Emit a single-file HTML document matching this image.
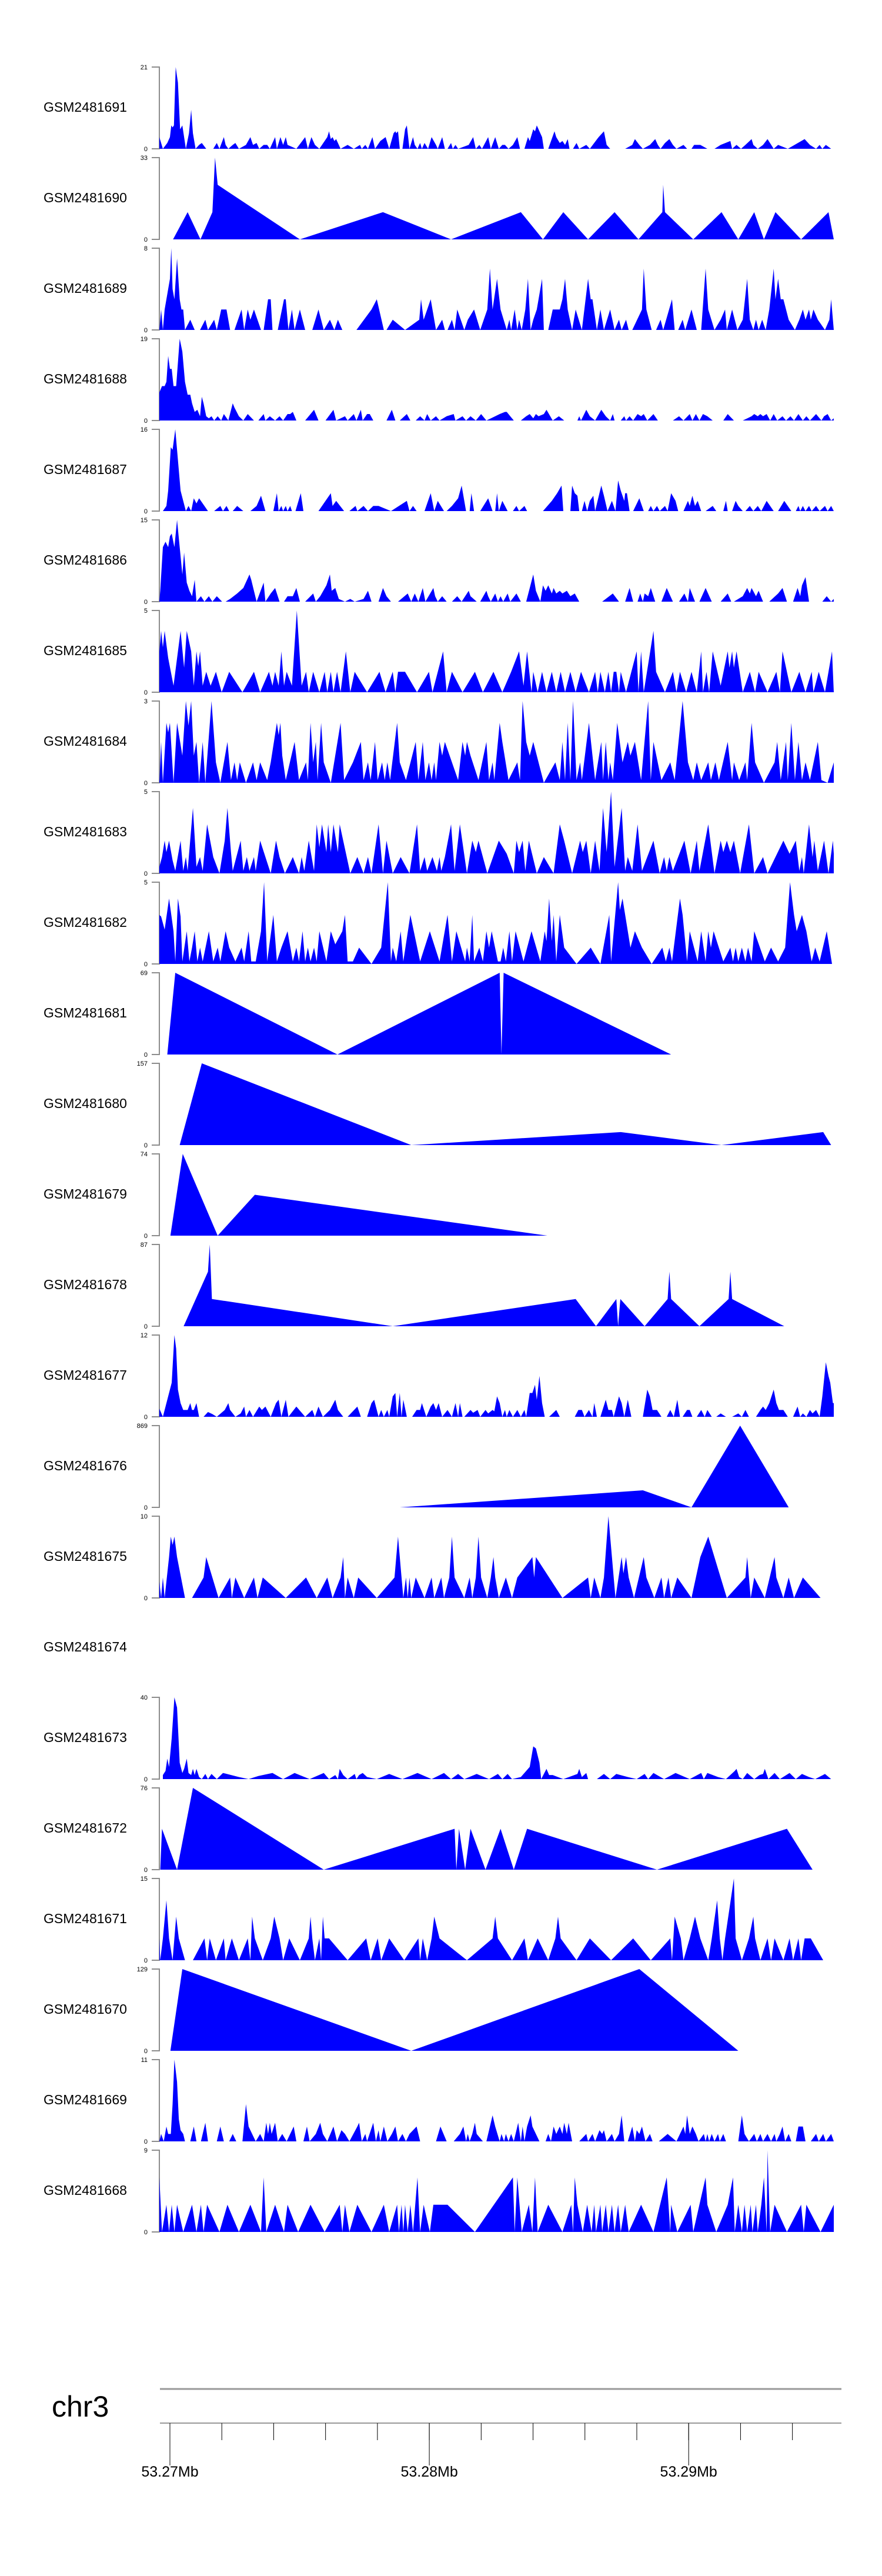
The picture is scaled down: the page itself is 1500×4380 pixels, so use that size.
<!DOCTYPE html>
<html><head><meta charset="utf-8"><title>Coverage tracks chr3</title>
<style>
html,body{margin:0;padding:0;background:#fff;}
svg{display:block;font-family:"Liberation Sans",sans-serif;}
</style></head>
<body>
<svg id="chart" width="1500" height="4380" viewBox="0 0 1500 4380" xmlns="http://www.w3.org/2000/svg"></svg>
<script>
// Genomic binning: position = START_BP + bin * BIN_BP
const START_BP = 53269592;
const BIN_BP = 17.04;
const NBINS = 1526;
const sampleNames = ["GSM2481691","GSM2481690","GSM2481689","GSM2481688","GSM2481687","GSM2481686","GSM2481685","GSM2481684","GSM2481683","GSM2481682","GSM2481681","GSM2481680","GSM2481679","GSM2481678","GSM2481677","GSM2481676","GSM2481675","GSM2481674","GSM2481673","GSM2481672","GSM2481671","GSM2481670","GSM2481669","GSM2481668"];
const yMaxValues = [21,33,8,19,16,15,5,3,5,5,69,157,74,87,12,869,10,null,40,76,15,129,11,9];
const genomeTickLabels = ["53.27Mb","53.28Mb","53.29Mb"];
const genomeTickBp = [53270000,53280000,53290000];
const minorTickBp = [53270000,53272000,53274000,53276000,53278000,53280000,53282000,53284000,53286000,53288000,53290000,53292000,53294000];

// coverage series: [bin, value] pairs
const cov1691=[[0,3],[8,0],[18,1.5],[24,3],[27,6],[30,5.5],[33,6],[37,21],[42,17],[47,5],[52,6],[56,3],[60,0],[67,4],[72,10],[76,4],[82,0],[90,1],[96,1.5],[106,0],[122,0],[130,1.5],[136,0],[146,3],[150,1],[156,0],[166,1],[172,1.5],[180,0],[196,1],[206,3],[212,1],[220,1.5],[226,0],[236,1],[244,1],[250,0],[262,3],[266,0],[274,3],[280,1],[286,3],[290,1],[310,0],[330,3],[336,0],[344,3],[352,1],[362,0],[380,3],[384,4.5],[388,2.5],[392,3],[396,2],[400,2.5],[410,0],[426,1],[440,0],[454,1],[458,0],[466,1],[472,0],[482,3],[488,0],[500,2],[512,3],[520,0],[530,4],[534,4.5],[536,4],[540,4.5],[544,0],[550,0],[556,5],[560,6],[566,0],[574,3],[578,1],[584,0],[590,1.5],[594,0],[600,1.5],[608,0],[616,3],[626,1],[630,0],[640,3],[646,0],[652,0],[660,1.5],[664,0],[670,1],[676,0],[700,1],[710,3],[716,0],[724,1],[730,0],[744,3],[750,0],[760,3],[768,0],[776,1],[782,1],[790,0],[800,1],[810,3],[816,0],[826,0],[834,3],[838,2],[846,5],[850,4.5],[854,6],[858,5],[866,3],[870,0],[880,0],[894,4.5],[898,3],[906,1.5],[912,2],[918,1],[924,2.5],[928,0],[936,0],[944,1.5],[950,0],[966,1],[974,0],[994,3],[1006,4.5],[1012,1],[1020,0],[1042,0],[1054,0],[1070,1],[1076,2.5],[1086,1],[1094,0],[1110,1],[1122,2.5],[1128,1],[1134,0],[1144,1.5],[1154,2.5],[1162,1],[1170,0],[1186,1],[1194,0],[1204,0],[1210,1],[1224,1],[1240,0],[1256,0],[1270,1],[1292,2],[1296,0],[1306,1],[1316,0],[1326,1],[1340,2.5],[1344,1],[1354,0],[1366,1],[1376,2.5],[1390,0],[1400,1],[1422,0],[1460,2.5],[1472,1],[1486,0],[1494,1],[1500,0],[1508,1],[1520,0]];
const cov1690=[[31,0],[64,11],[93,0],[120,11],[126,33],[132,22],[318,0],[506,11],[660,0],[818,11],[868,0],[914,11],[970,0],[1030,11],[1084,0],[1138,11],[1140,22],[1144,11],[1208,0],[1272,11],[1310,0],[1346,11],[1368,0],[1394,11],[1452,0],[1514,11],[1526,0]];
const cov1689=[[0,0],[4,2],[8,0],[12,2],[20,4],[24,5],[27,8],[30,4],[34,3],[40,7],[46,3],[50,2],[54,2],[58,0],[70,1],[80,0],[92,0],[104,1],[110,0],[124,1],[130,0],[140,2],[152,2],[160,0],[170,0],[186,2],[192,0],[200,2],[206,1],[214,2],[230,0],[236,0],[246,3],[252,3],[256,0],[268,0],[282,3],[286,3],[292,0],[300,2],[306,0],[318,2],[330,0],[346,0],[360,2],[372,0],[386,1],[396,0],[404,1],[414,0],[430,0],[446,0],[480,2],[492,3],[508,0],[514,0],[528,1],[556,0],[588,1],[592,3],[598,1],[614,3],[626,0],[640,1],[646,0],[652,0],[662,1],[668,0],[674,2],[690,0],[698,1],[712,2],[726,0],[742,2],[748,6],[754,2],[764,5],[772,2],[786,0],[792,1],[796,0],[804,2],[810,0],[814,1],[820,0],[828,2],[834,5],[840,0],[846,1],[854,2],[866,5],[870,0],[880,0],[890,2],[900,2],[906,2],[912,3],[918,5],[924,2],[934,0],[942,2],[956,0],[970,5],[976,3],[980,3],[990,0],[998,2],[1006,0],[1020,2],[1030,0],[1040,1],[1046,0],[1056,1],[1062,0],[1070,0],[1092,2],[1096,6],[1102,2],[1114,0],[1124,0],[1134,1],[1140,0],[1160,3],[1166,0],[1174,0],[1184,1],[1190,0],[1204,2],[1216,0],[1226,0],[1236,6],[1242,2],[1256,0],[1270,1],[1280,2],[1284,0],[1296,2],[1308,0],[1320,1],[1330,5],[1336,1],[1344,0],[1350,1],[1356,0],[1364,1],[1372,0],[1380,2],[1390,6],[1394,3],[1400,5],[1406,3],[1412,3],[1424,1],[1438,0],[1448,1],[1456,2],[1462,1],[1470,2],[1474,1],[1480,2],[1490,1],[1506,0],[1516,1],[1520,3],[1526,0]];
const cov1688=[[0,6.5],[6,8],[12,8],[16,9],[20,15],[24,12],[28,12],[32,8],[38,8],[46,19],[52,16],[58,9],[64,6],[70,6],[74,4],[80,2],[86,2.5],[92,1],[96,5.5],[100,4],[106,1],[112,0.5],[118,1],[124,0],[132,1],[140,0],[146,1.5],[156,0],[166,4],[170,3],[180,1],[190,0],[200,1.5],[214,0],[224,0],[236,1.5],[240,0],[250,1],[262,0],[272,1],[280,0],[290,1.5],[296,1.5],[302,2],[310,0],[330,0],[350,2.5],[360,0],[376,0],[394,2.5],[400,0],[420,1],[426,0],[440,1.5],[446,0],[456,2.5],[460,0],[470,1.5],[476,1.5],[484,0],[500,0],[514,0],[526,2.5],[534,0],[544,0],[560,1.5],[568,0],[580,0],[590,1],[600,0],[606,1.5],[614,0],[626,1],[634,0],[650,1],[666,1.5],[670,0],[686,1],[694,0],[704,1],[716,0],[728,1.5],[740,0],[760,1],[770,1.5],[782,2],[786,2],[794,1],[802,0],[818,0],[830,1],[838,1.5],[846,0.5],[852,1.5],[858,1],[870,1.5],[876,2.5],[890,0],[904,1],[916,0],[930,0],[946,0],[950,1],[954,0],[966,2.5],[974,1],[986,0],[1000,2.5],[1010,1],[1020,0],[1026,1.5],[1030,0],[1044,0],[1052,1],[1056,0],[1064,1],[1072,0],[1082,1.5],[1090,1],[1096,1.5],[1104,0],[1118,1.5],[1128,0],[1140,0],[1150,0],[1162,0],[1176,1],[1186,0],[1200,1.5],[1206,0],[1214,1.5],[1222,0],[1230,1.5],[1240,1],[1252,0],[1266,0],[1276,0],[1286,1.5],[1300,0],[1310,0],[1320,0],[1340,1],[1346,1.5],[1354,1],[1360,1.5],[1366,1],[1374,1.5],[1382,0],[1390,1.5],[1398,0],[1410,1],[1418,0],[1428,1],[1436,0],[1446,1.5],[1456,0],[1464,1],[1472,0],[1486,1.5],[1498,0],[1504,1],[1512,1.5],[1520,0],[1526,0.5]];
const cov1687=[[8,0],[16,1],[20,4],[26,12.5],[30,12],[36,16],[42,10],[48,4],[54,2],[60,0],[66,1],[72,0],[78,2.5],[84,1.5],[90,2.5],[98,1.5],[110,0],[124,0],[138,1],[144,0],[152,1],[158,0],[166,0],[176,1],[190,0],[206,0],[220,1],[230,3],[240,0],[258,0],[266,3.5],[270,0],[276,1],[280,0],[286,1],[290,0],[296,1],[300,0],[308,0],[320,3.5],[326,0],[360,0],[376,2],[388,3.5],[392,1],[400,2],[418,0],[430,0],[444,1],[448,0],[462,1],[472,0],[484,1],[496,1],[524,0],[560,2],[566,0],[574,1],[582,0],[600,0],[614,3.5],[622,0],[630,2],[644,0],[650,0],[662,1],[676,2.5],[684,5],[694,0],[702,0],[706,3.5],[712,0],[726,0],[744,2.5],[754,0],[760,0],[764,3.5],[768,0],[776,2],[788,0],[800,0],[808,1],[814,0],[826,1],[832,0],[844,0],[868,0],[888,2],[900,3.5],[910,5],[914,0],[930,0],[934,5],[940,3.5],[946,3],[950,0],[956,0],[962,2],[968,0],[974,2],[982,3],[986,0],[1000,5],[1006,3],[1014,0],[1024,2],[1032,0],[1038,6],[1044,4],[1052,2],[1054,3.5],[1058,3.5],[1064,0],[1072,0],[1086,2.5],[1096,0],[1106,0],[1112,1],[1118,0],[1126,1],[1132,0],[1144,1],[1150,0],[1158,3.5],[1168,2],[1174,0],[1186,0],[1196,2],[1200,1],[1206,3],[1212,1],[1218,2],[1226,0],[1236,0],[1252,1],[1260,0],[1276,0],[1282,2],[1286,0],[1296,0],[1304,2],[1310,1],[1320,0],[1326,0],[1336,1],[1344,0],[1354,1],[1362,0],[1374,2],[1390,0],[1400,0],[1414,2],[1430,0],[1440,0],[1446,1],[1450,0],[1456,1],[1462,0],[1470,1],[1476,0],[1486,1],[1494,0],[1506,1],[1512,0],[1520,1],[1526,0]];
const cov1686=[[0,0],[2,2],[8,10],[14,11],[20,10],[24,12],[28,12.5],[34,10],[40,15],[46,10],[52,5],[56,9],[62,3.5],[68,2],[74,1],[80,4],[84,0],[94,1],[102,0],[112,1],[120,0],[130,1],[142,0],[150,0],[160,0.5],[176,1.5],[190,2.5],[204,5],[208,4],[220,0],[236,3.5],[240,0],[252,1.5],[262,2.5],[272,0],[282,0],[290,1],[302,1],[310,2.5],[318,0],[330,0],[348,1.5],[354,0],[364,1],[378,3],[386,5],[390,2],[398,2.5],[406,0.5],[420,0],[432,0.5],[442,0],[462,0.5],[472,2],[480,0],[496,0],[506,2.5],[514,1],[524,0],[540,0],[562,1.5],[570,0],[578,1.5],[586,0],[596,2.5],[602,0],[620,2.5],[624,1],[630,0],[640,1],[650,0],[662,0],[674,1],[684,0],[700,2],[704,1],[718,0],[726,0],[740,2],[744,1],[750,0],[760,1.5],[766,0],[772,1],[778,0],[788,1.5],[794,0],[808,1.5],[818,0],[830,0],[846,5],[852,2],[862,0],[868,3],[874,2],[880,3],[888,1.5],[892,2.5],[898,1.5],[906,2],[912,1.5],[922,2],[930,1],[940,1.5],[950,0],[966,0],[990,0],[1002,0],[1026,1.5],[1040,0],[1054,0],[1064,2.5],[1072,0],[1082,0],[1088,1.5],[1094,0],[1098,1.5],[1106,1],[1112,2.5],[1122,0],[1136,0],[1148,2.5],[1162,0],[1176,0],[1188,1.5],[1196,0],[1200,2.5],[1212,0],[1222,0],[1236,2.5],[1250,0],[1270,0],[1286,1.5],[1294,0],[1300,0],[1320,1],[1330,2.5],[1336,1.5],[1340,2.5],[1350,1],[1356,2],[1366,0],[1380,0],[1400,1.5],[1410,2.5],[1420,0],[1434,0],[1444,2.5],[1450,1],[1454,3],[1462,4.5],[1470,0],[1486,0],[1500,0],[1510,1],[1520,0],[1526,0.5]];
const cov1685=[[0,2.5],[4,3.75],[8,2.75],[12,3.75],[20,2.1],[32,0.4],[48,3.75],[56,1.5],[62,3.75],[72,2.5],[78,0.4],[84,2.5],[88,1.6],[92,2.5],[98,0.4],[106,1.25],[116,0.4],[128,1.25],[141,0],[158,1.25],[188,0],[214,1.25],[228,0],[248,1.25],[256,0.4],[262,1.25],[270,0.4],[276,2.5],[282,0.4],[288,1.25],[300,0.4],[311,5],[322,0.4],[332,1.25],[338,0],[348,1.25],[362,0],[374,1.25],[380,0],[388,1.25],[394,0],[402,1.25],[410,0],[422,2.5],[432,0],[442,1.25],[470,0],[498,1.25],[512,0],[528,1.25],[534,0],[540,1.25],[556,1.25],[583,0],[610,1.25],[618,0],[642,2.5],[650,0],[662,1.25],[686,0],[714,1.25],[732,0],[756,1.25],[776,0],[796,1.25],[814,2.5],[824,0.4],[832,2.5],[842,0],[846,1.25],[856,0],[866,1.25],[876,0],[888,1.25],[898,0],[908,1.25],[918,0],[930,1.25],[942,0],[954,1.25],[972,0],[986,1.25],[992,0],[998,1.25],[1008,0],[1016,1.25],[1022,0],[1028,1.25],[1034,1.25],[1040,0],[1044,1.25],[1056,0],[1068,1.25],[1080,2.5],[1084,0],[1090,2.5],[1096,0],[1118,3.75],[1124,1.25],[1144,0],[1162,1.25],[1170,0],[1178,1.25],[1192,0],[1204,1.25],[1216,0],[1226,2.5],[1230,0],[1238,1.25],[1244,0],[1252,2.5],[1270,0.4],[1286,2.5],[1290,1.5],[1296,2.5],[1300,1.5],[1306,2.5],[1320,0],[1336,1.25],[1348,0],[1356,1.25],[1376,0],[1396,1.25],[1404,0],[1410,2.5],[1430,0],[1448,1.25],[1462,0],[1476,1.25],[1480,0],[1492,1.25],[1506,0],[1522,2.5],[1526,0]];
const cov1684=[[0,0],[4,1.5],[8,0],[16,2.2],[20,1.85],[24,2.2],[32,0],[40,2.2],[52,1],[60,3],[66,2.1],[72,3],[78,1],[84,1.5],[90,0],[98,1.5],[104,0],[118,3],[128,0.75],[138,0],[154,1.5],[162,0.1],[170,0.75],[176,0.1],[182,0.75],[196,0],[212,0.75],[220,0.1],[228,0.75],[244,0.1],[252,0.75],[266,2.2],[270,1.75],[274,2.2],[278,1],[286,0.1],[306,1.5],[316,0.1],[332,0.75],[336,0.1],[342,2.2],[348,0.75],[354,1.5],[358,0.1],[366,2.2],[372,0.75],[388,0],[410,2.2],[418,0.1],[438,0.75],[456,1.5],[462,0.1],[472,0.75],[478,0.1],[488,1.5],[494,0.1],[504,0.75],[510,0.1],[516,0.75],[522,0.1],[538,2.2],[544,0.75],[558,0.1],[580,1.5],[586,0.1],[596,1.5],[602,0.1],[610,0.75],[616,0.1],[622,0.75],[626,0.1],[634,1.5],[640,1],[646,1.5],[676,0.1],[686,1.5],[692,1],[696,1.5],[704,1],[722,0.1],[740,1.5],[746,0.1],[754,0.75],[758,0.1],[770,2.2],[776,1.5],[790,0.1],[810,0.75],[816,0.1],[822,3],[830,1.5],[838,1],[846,1.5],[870,0],[896,0.75],[906,0.1],[912,1.5],[918,0.1],[924,2.2],[930,0.1],[936,3],[944,0.1],[952,0.75],[956,0.1],[972,2.2],[986,0.1],[1000,1.5],[1004,0.1],[1010,1.5],[1016,0.1],[1020,0.75],[1026,0.1],[1036,2.2],[1048,0.75],[1060,1.5],[1066,1],[1076,1.5],[1090,0.1],[1106,3],[1112,0.1],[1118,1.5],[1136,0.1],[1156,0.75],[1166,0.1],[1184,3],[1196,0.75],[1208,0.1],[1216,0.75],[1226,0.1],[1242,0.75],[1248,0.1],[1258,0.75],[1266,0.1],[1286,1.5],[1296,0.1],[1300,0.75],[1312,0.1],[1326,0.75],[1330,0.1],[1340,2.2],[1348,0.75],[1368,0],[1392,0.75],[1398,1.5],[1406,0.1],[1418,1.5],[1422,0.1],[1430,2.2],[1438,0.1],[1446,1.5],[1454,0.1],[1462,0.75],[1472,0.1],[1490,1.5],[1498,0.1],[1512,0],[1526,0.75]];
const cov1683=[[0,0.4],[6,1],[12,2],[16,1.3],[22,2],[30,0.8],[36,0.15],[48,2],[54,0.15],[60,1],[64,0.15],[76,4],[84,0.4],[92,1],[98,0.15],[108,3],[122,1],[136,0],[148,2],[154,4],[162,1.3],[166,0.15],[184,2],[190,0.15],[198,1],[204,0.15],[214,1],[218,0.15],[228,2],[252,0],[264,2],[272,1],[284,0],[302,1],[316,0],[322,1],[328,0.15],[338,2],[350,0.15],[356,3],[362,1.6],[368,3],[378,1.3],[382,3],[388,1.3],[394,3],[404,1.3],[408,3],[432,0],[448,1],[462,0],[472,1],[480,0],[496,3],[506,0],[514,2],[528,0],[546,1],[566,0],[583,3],[590,0.15],[600,1],[606,0.15],[618,1],[628,0.15],[634,1],[638,0.15],[646,1],[660,3],[668,0.15],[680,3],[696,0],[708,2],[716,1.3],[722,2],[742,0],[768,2],[786,1.2],[802,0],[808,2],[814,1.3],[822,2],[828,0.15],[836,2],[854,0],[870,1],[892,0],[906,3],[916,2],[934,0],[952,2],[958,1.3],[966,2],[976,0],[986,2],[996,0.15],[1004,4],[1012,1.3],[1022,5],[1030,0.4],[1046,4],[1054,0.15],[1060,1],[1070,0.15],[1082,3],[1092,0.15],[1118,2],[1132,0],[1142,1],[1148,0.15],[1154,1],[1162,0.15],[1188,2],[1202,0],[1216,2],[1222,0.15],[1242,3],[1256,0],[1270,2],[1276,1.3],[1284,2],[1292,1.3],[1300,2],[1314,0],[1334,3],[1346,0],[1366,1],[1376,0],[1412,2],[1426,1.2],[1440,2],[1448,0.15],[1454,1],[1458,0],[1470,3],[1478,1],[1482,2],[1490,0.15],[1504,2],[1514,0],[1524,2],[1526,1.2]];
const cov1682=[[0,3],[4,2.9],[12,2.1],[22,4],[32,2],[36,0.15],[42,4],[48,2.9],[52,0.15],[62,2],[68,0.15],[74,1],[80,2],[86,0.15],[92,1],[98,0.15],[112,2],[122,0.15],[132,1],[138,0.15],[150,2],[158,1],[172,0.15],[186,1],[192,0.15],[202,2],[208,0.15],[218,0.15],[230,2],[237,5],[244,0.15],[258,3],[266,0.15],[276,1],[290,2],[302,0.15],[310,1],[316,0.15],[324,2],[330,0.15],[336,1],[342,0.15],[350,1],[356,0.15],[362,2],[378,0.15],[388,2],[398,1.2],[414,2],[420,3],[426,0.15],[438,0.15],[452,1],[480,0],[502,1],[517,5],[524,0.15],[528,1],[536,0.15],[546,2],[552,0.15],[568,3],[590,0.15],[612,2],[634,0.15],[652,3],[662,0.15],[672,2],[692,0.15],[696,1],[702,0.15],[708,3],[712,0.15],[724,1],[732,0.15],[740,2],[746,1],[752,2],[766,0.15],[772,0.15],[778,1],[784,0.15],[792,2],[798,0.15],[806,2],[824,0.15],[842,2],[862,0.15],[872,2],[876,1.4],[882,4],[888,1.4],[892,3],[898,0.15],[906,3],[916,1],[944,0],[976,1],[998,0],[1018,3],[1022,0.15],[1038,5],[1042,3.3],[1048,4],[1066,1],[1076,2],[1092,1],[1114,0],[1138,1],[1146,0.15],[1154,1],[1160,0.15],[1178,4],[1184,3],[1194,0.15],[1200,2],[1218,0.15],[1226,2],[1236,0.15],[1242,2],[1248,1],[1254,2],[1276,0.15],[1292,1],[1298,0.15],[1304,1],[1310,0.15],[1318,1],[1326,0.15],[1332,1],[1340,0.15],[1346,2],[1370,0.15],[1384,1],[1400,0.15],[1416,1],[1427,5],[1436,3],[1442,2],[1454,3],[1464,2],[1476,0.15],[1484,1],[1494,0.15],[1510,2],[1522,0]];
const cov1681=[[18,0],[36,69],[403,0],[770,69],[774,0],[779,69],[1158,0]];
const cov1680=[[46,0],[96,157],[570,0],[1044,25],[1272,0],[1502,25],[1520,0]];
const cov1679=[[25,0],[53,74],[132,0],[216,37],[878,0]];
const cov1678=[[55,0],[110,58],[114,87],[119,29],[528,0],[942,29],[988,0],[1034,29],[1038,0],[1043,29],[1098,0],[1150,29],[1154,58],[1158,29],[1222,0],[1288,29],[1292,58],[1296,29],[1414,0]];
const cov1677=[[0,1.2],[8,0],[20,3],[28,5],[34,12],[38,10],[42,4],[48,2],[54,1],[60,1],[64,1],[70,2],[74,1],[78,1],[84,2],[90,0],[100,0],[110,0.7],[120,0.4],[130,0],[148,1],[156,2],[160,1],[172,0],[184,0.5],[192,1.5],[196,0],[204,1],[212,0],[226,1.5],[232,1],[240,1.5],[252,0],[264,2],[270,2.5],[276,0],[286,2.5],[292,0],[310,1.5],[330,0],[346,1],[352,0],[360,1.5],[370,0],[386,1],[398,2.5],[404,1],[416,0],[426,0],[448,1.5],[456,0],[470,0],[480,2],[486,2.5],[496,0],[502,1],[508,0],[516,1],[520,0],[528,3],[534,3.5],[538,0],[544,3.5],[548,0],[552,2.5],[560,0],[572,0],[582,1],[590,1],[594,2],[604,0],[614,1.5],[620,2],[626,1],[632,2],[640,0],[652,1],[662,0],[670,2],[676,0],[680,2],[686,0],[690,0],[704,1],[710,0.6],[720,1],[726,0],[738,1],[744,0.5],[754,1],[758,0.8],[764,3],[770,2],[776,0],[782,1],[786,0],[792,1],[800,0],[810,1],[818,0],[826,1],[830,0],[838,3.5],[844,3.5],[850,4.7],[854,2.5],[860,6],[866,2],[872,0],[882,0],[898,1],[906,0],[922,0],[940,0],[948,1],[956,1],[962,0],[972,1],[980,0],[984,2],[990,0],[998,0],[1010,2.5],[1016,1],[1024,1],[1028,0],[1040,3],[1046,2],[1052,0],[1060,2.5],[1068,0],[1076,0],[1082,0],[1094,0],[1104,4],[1110,3],[1116,1],[1126,1],[1136,0],[1148,0],[1156,1],[1164,0],[1172,2.5],[1178,0],[1184,0],[1194,1],[1200,1],[1206,0],[1216,0],[1226,1],[1234,0],[1240,1],[1250,0],[1260,0],[1270,0.5],[1282,0],[1296,0],[1310,0.5],[1318,0],[1326,1],[1334,0],[1350,0],[1360,1],[1366,1.5],[1372,1],[1380,2],[1390,4],[1396,2],[1402,1],[1412,1],[1422,0],[1434,0],[1444,1.5],[1450,0],[1456,0.5],[1464,0],[1472,1],[1478,0.5],[1486,1],[1494,0],[1500,3],[1508,8],[1514,6],[1518,5],[1524,2],[1526,2]];
const cov1676=[[544,0],[1094,181],[1204,0],[1314,869],[1424,0]];
const cov1675=[[0,2],[4,0],[8,2.5],[12,0],[22,5],[26,7.5],[30,6.5],[34,7.5],[40,5],[58,0],[74,0],[100,2.5],[106,5],[134,0],[160,2.5],[164,0],[172,2.5],[192,0],[214,2.5],[222,0],[234,2.5],[286,0],[332,2.5],[356,0],[380,2.5],[392,0],[410,2.5],[416,5],[420,0],[426,2.5],[440,0],[450,2.5],[492,0],[532,2.5],[540,7.5],[548,2.5],[552,0],[558,2.5],[562,0],[566,2.5],[570,0],[580,2.5],[600,0],[616,2.5],[622,0],[638,2.5],[644,0],[656,2.5],[662,7.5],[668,2.5],[690,0],[702,2.5],[708,0],[716,2.5],[722,7.5],[728,2.5],[742,0],[750,2.5],[756,5],[760,2.5],[768,0],[784,2.5],[798,0],[810,2.5],[844,5],[848,2.5],[852,5],[912,0],[970,2.5],[976,0],[984,2.5],[998,0],[1006,2.5],[1016,10],[1024,5],[1032,0],[1046,5],[1050,3],[1056,5],[1062,2.5],[1074,0],[1096,5],[1102,2.5],[1120,0],[1136,2.5],[1142,0],[1152,2.5],[1158,0],[1172,2.5],[1204,0],[1224,5],[1242,7.5],[1284,0],[1326,2.5],[1330,5],[1338,0],[1346,2.5],[1370,0],[1392,5],[1396,2.5],[1412,0],[1424,2.5],[1436,0],[1456,2.5],[1496,0]];
const cov1674=[];
const cov1673=[[8,0],[8,2],[14,4],[18,10],[22,6],[28,20],[34,40],[40,35],[46,8],[52,3],[56,5],[62,10],[66,3],[72,2],[76,5],[80,2],[84,5],[90,1],[96,0],[104,2.5],[110,0],[118,2.5],[130,0],[144,3],[180,1],[202,0],[224,1.5],[256,3],[280,0],[306,3],[340,0],[372,3],[384,0],[398,2],[404,0],[408,5],[416,2],[426,0],[436,1.5],[442,2.5],[446,0],[452,2],[460,3],[470,1],[492,0],[520,2.5],[550,0],[584,3],[616,0],[644,3],[660,0],[676,2.5],[690,0],[718,2.5],[746,0],[766,2.5],[776,0],[788,2.5],[798,0],[818,1],[838,6],[846,16],[852,15],[860,8],[864,0],[876,5],[882,2],[890,2],[914,0],[946,2.5],[950,5],[956,1],[966,3],[970,0],[990,0],[1006,2.5],[1020,0],[1034,2.5],[1060,1],[1080,0],[1098,2.5],[1106,0],[1118,3],[1142,0],[1168,3],[1200,0],[1226,3],[1232,0],[1240,3],[1264,1],[1282,0],[1302,4],[1306,5],[1312,1],[1320,0],[1330,3],[1346,0],[1358,2],[1366,2.5],[1370,5],[1378,0],[1392,3],[1404,0],[1426,3],[1440,0],[1454,2.5],[1470,1],[1484,0],[1506,2.5],[1520,0]];
const cov1672=[[0,0],[2,0],[6,38],[40,0],[76,76],[372,0],[668,38],[672,0],[678,38],[692,0],[704,38],[738,0],[772,38],[802,0],[832,38],[1126,0],[1420,38],[1478,0]];
const cov1671=[[0,4],[2,0],[8,4],[16,11],[22,4],[30,0],[38,8],[44,4],[58,0],[76,0],[102,4],[108,0],[114,4],[128,0],[146,4],[150,0],[164,4],[180,0],[200,4],[206,0],[210,8],[216,4],[234,0],[252,4],[260,8],[272,4],[280,0],[294,4],[318,0],[338,4],[342,8],[346,4],[352,0],[362,4],[366,0],[370,8],[374,4],[384,4],[426,0],[468,4],[478,0],[494,4],[502,0],[520,4],[554,0],[586,4],[590,0],[596,4],[606,0],[616,4],[622,8],[634,4],[696,0],[754,4],[760,8],[766,4],[798,0],[826,4],[834,0],[856,4],[880,0],[896,4],[902,8],[908,4],[944,0],[974,4],[1022,0],[1072,4],[1112,0],[1156,4],[1160,0],[1166,8],[1180,4],[1186,0],[1200,4],[1212,8],[1224,4],[1242,0],[1250,4],[1262,11],[1268,4],[1274,0],[1280,4],[1300,15],[1304,4],[1318,0],[1334,4],[1344,8],[1348,4],[1360,0],[1376,4],[1384,0],[1392,4],[1412,0],[1426,4],[1434,0],[1446,4],[1452,0],[1460,4],[1474,4],[1502,0]];
const cov1670=[[25,0],[52,129],[570,0],[1086,129],[1310,0]];
const cov1669=[[0,0],[4,1],[10,0],[16,2],[20,1],[26,1],[30,5],[34,11],[40,8],[44,3],[48,1.5],[54,1],[58,0],[70,0],[78,2],[84,0],[94,0],[104,2.5],[110,0],[120,0],[130,0],[138,2],[146,0],[158,0],[166,1],[174,0],[188,0],[196,5],[202,2],[210,1],[218,0],[228,1],[236,0],[242,2.5],[246,1],[250,2.5],[254,1],[262,2.5],[268,0],[278,1],[288,0],[304,2],[310,0],[326,0],[334,2],[340,0],[354,1],[364,2.5],[370,1],[380,0],[394,2],[402,0],[412,1.5],[420,1],[430,0],[448,2],[452,2.5],[458,0],[466,1],[470,0],[484,2.5],[490,0],[496,1.5],[500,0],[508,2],[516,0],[526,1],[534,2],[540,0],[550,1],[558,0],[566,1],[582,2],[590,0],[600,0],[616,0],[626,0],[636,2],[650,0],[666,0],[680,1],[688,2],[694,0],[698,1],[702,0],[708,1],[714,2.5],[718,1],[732,0],[740,0],[754,3.5],[760,2],[770,0],[774,1],[780,0],[784,1],[790,0],[796,1],[802,0],[812,2.5],[818,0],[822,2],[826,0],[832,2],[840,3.5],[844,2],[852,1],[860,0],[874,0],[880,1],[886,0],[892,2],[898,1],[906,2],[912,1],[916,2.5],[922,1],[926,2.5],[934,0],[950,0],[966,1],[970,0],[980,1],[986,0],[996,1.5],[1002,1],[1006,1.5],[1012,0],[1024,1],[1030,0],[1040,1],[1046,3.5],[1052,0],[1060,0],[1070,2],[1076,0],[1080,1.5],[1086,1],[1092,2],[1100,0],[1110,1],[1116,0],[1130,0],[1150,1],[1170,0],[1186,2],[1190,1],[1194,3.5],[1200,1],[1206,2],[1214,1],[1220,0],[1232,1],[1236,0],[1240,1],[1244,0],[1250,1],[1256,0],[1264,1],[1268,0],[1276,1],[1282,0],[1290,0],[1310,0],[1318,3.5],[1324,1],[1334,0],[1346,1],[1352,0],[1360,1],[1366,0],[1376,1],[1384,0],[1392,1],[1396,0],[1404,1],[1410,2],[1416,0],[1424,1],[1430,0],[1440,0],[1446,2],[1456,2],[1462,0],[1474,0],[1486,1],[1492,0],[1502,1],[1508,0],[1520,1],[1526,0]];
const cov1668=[[0,6],[6,0],[16,3],[22,0],[28,3],[34,0],[40,3],[54,0],[74,3],[84,0],[94,3],[100,0],[108,3],[136,0],[154,3],[180,0],[206,3],[230,0],[236,6],[242,0],[262,3],[282,0],[290,3],[314,0],[342,3],[374,0],[408,3],[414,0],[420,3],[430,0],[448,3],[480,0],[508,3],[520,0],[538,3],[542,0],[548,3],[552,0],[556,3],[562,0],[568,3],[574,0],[584,6],[590,0],[598,3],[612,0],[620,3],[652,3],[714,0],[800,6],[804,0],[810,6],[820,0],[836,3],[844,0],[850,6],[856,0],[880,3],[912,0],[932,3],[936,0],[940,6],[946,3],[958,0],[968,3],[978,0],[984,3],[988,0],[998,3],[1002,0],[1010,3],[1016,0],[1024,3],[1030,0],[1038,3],[1044,0],[1054,3],[1062,0],[1090,3],[1118,0],[1148,6],[1156,0],[1158,3],[1172,0],[1202,3],[1208,0],[1236,6],[1240,3],[1260,0],[1286,3],[1298,6],[1302,0],[1310,3],[1318,0],[1324,3],[1330,0],[1338,3],[1342,0],[1350,3],[1354,0],[1362,3],[1368,6],[1374,0],[1376,9],[1382,0],[1392,3],[1420,0],[1452,3],[1458,0],[1464,3],[1496,0],[1526,3]];

const coverage=[cov1691,cov1690,cov1689,cov1688,cov1687,cov1686,cov1685,cov1684,cov1683,cov1682,cov1681,cov1680,cov1679,cov1678,cov1677,cov1676,cov1675,cov1674,cov1673,cov1672,cov1671,cov1670,cov1669,cov1668];

const NS="http://www.w3.org/2000/svg";
const svg=document.getElementById('chart');
const PLOT_L=271, PLOT_R=1418, TRACK_TOP0=114, TRACK_STEP=154, TRACK_H=139;
function xBin(b){return PLOT_L+b*(PLOT_R-PLOT_L)/NBINS;}
function xBp(bp){return xBin((bp-START_BP)/BIN_BP);}
function yVal(v,ymax,bottom){return bottom-(v/ymax)*TRACK_H;}
function mk(tag,attrs,parent){const e=document.createElementNS(NS,tag);for(const k in attrs)e.setAttribute(k,attrs[k]);(parent||svg).appendChild(e);return e;}

sampleNames.forEach((name,i)=>{
  const top=TRACK_TOP0+i*TRACK_STEP, bottom=top+TRACK_H;
  const g=mk('g',{});
  
  
  const lab=mk('text',{x:74,y:top+76,'font-size':23,fill:'#000'},g);
  lab.textContent=name;
  
  
  const ymax=yMaxValues[i];
  if(ymax===null) return;
  const ax=mk('path',{d:`M258 ${top}H${PLOT_L}V${bottom}H258`,fill:'none',stroke:'#8c8c8c','stroke-width':2},g);
  
  
  const t1=mk('text',{x:251,y:top+4,'font-size':11,'text-anchor':'end',fill:'#000'},g);
  t1.textContent=String(ymax);
  
  
  const t0=mk('text',{x:251,y:bottom+4,'font-size':11,'text-anchor':'end',fill:'#000'},g);
  t0.textContent='0';
  
  
  const pts=coverage[i];
  if(!pts.length) return;
  let d=`M${xBin(pts[0][0]).toFixed(1)} ${bottom}`;
  pts.forEach(p=>{d+=`L${xBin(p[0]).toFixed(1)} ${yVal(p[1],ymax,bottom).toFixed(1)}`;});
  d+=`L${xBin(pts[pts.length-1][0]).toFixed(1)} ${bottom}Z`;
  const area=mk('path',{d:d,fill:'#0000ff',stroke:'none'},g);
  
  
});

// genome axis
const ga=mk('g',{});


const chr=mk('text',{x:88,y:4109,'font-size':50,fill:'#000'},ga);
chr.textContent='chr3';


const l1=mk('line',{x1:272,x2:1431,y1:4062,y2:4062,stroke:'#999','stroke-width':3},ga);


const l2=mk('line',{x1:272,x2:1431,y1:4120,y2:4120,stroke:'#999','stroke-width':2},ga);


minorTickBp.forEach(bp=>{
  const x=xBp(bp);
  const t=mk('line',{x1:x,x2:x,y1:4120,y2:4149,stroke:'#000','stroke-width':1},ga);
  
  
});
genomeTickBp.forEach((bp,k)=>{
  const x=xBp(bp);
  const t=mk('line',{x1:x,x2:x,y1:4120,y2:4192,stroke:'#000','stroke-width':1},ga);
  
  
  const tx=mk('text',{x:x,y:4211,'font-size':25,'text-anchor':'middle',fill:'#000'},ga);
  tx.textContent=genomeTickLabels[k];
  
  
});
</script>
</body></html>
